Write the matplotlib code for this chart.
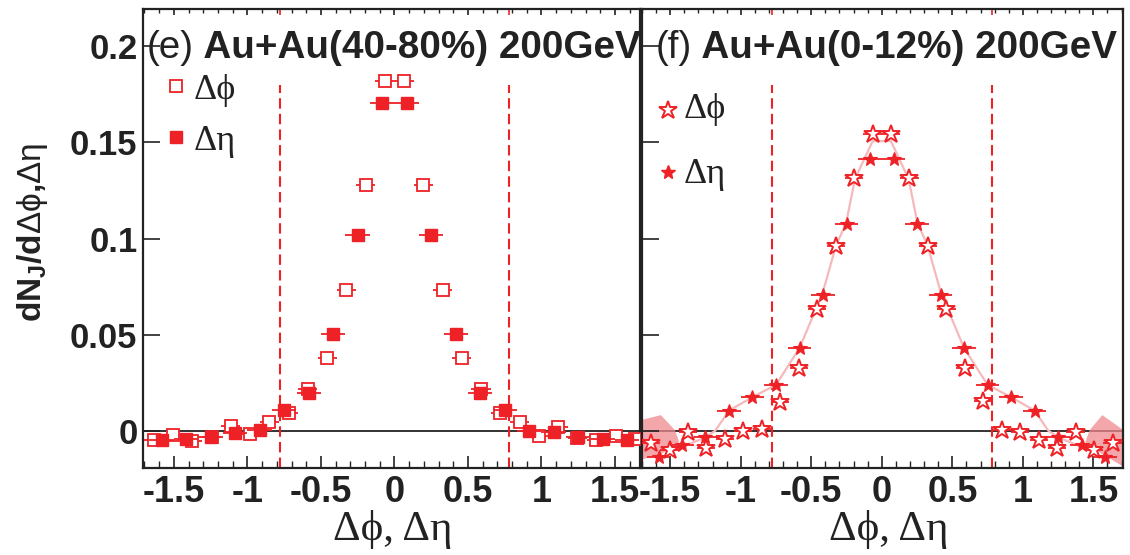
import matplotlib
matplotlib.use('Agg')
import matplotlib.pyplot as plt
from matplotlib.ticker import FixedLocator, MultipleLocator

# ---------------- data ----------------
dphi_x = [-1.636, -1.505, -1.374, -1.244, -1.113, -0.982, -0.851, -0.720, -0.589, -0.458, -0.327, -0.196, -0.065,
          0.065, 0.196, 0.327, 0.458, 0.589, 0.720, 0.851, 0.982, 1.113, 1.244, 1.374, 1.505, 1.636]
deta_x = [-1.583, -1.417, -1.250, -1.083, -0.917, -0.750, -0.583, -0.417, -0.250, -0.083,
          0.083, 0.250, 0.417, 0.583, 0.750, 0.917, 1.083, 1.250, 1.417, 1.583]
dphi_xerr = 0.065
deta_xerr = 0.083

# (e) Au+Au 40-80%
peri_dphi = [-0.0047, -0.0021, -0.0056, -0.0035, 0.0022, -0.0017, 0.0043, 0.0092, 0.0217, 0.0379, 0.0731, 0.1276, 0.182,
             0.182, 0.1276, 0.0731, 0.0379, 0.0217, 0.0092, 0.0043, -0.0030, 0.0020, -0.0040, -0.0050, -0.0030, -0.0045]
peri_deta = [-0.0047, -0.0043, -0.0033, -0.0012, 0.0002, 0.0109, 0.0196, 0.0505, 0.102, 0.1703,
             0.1703, 0.102, 0.0505, 0.0196, 0.0109, -0.0003, -0.0007, -0.0033, -0.0043, -0.0050]

# (f) Au+Au 0-12%
cent_dphi = [-0.0064, -0.0099, -0.0009, -0.0090, -0.0043, -0.0003, 0.0007, 0.0150, 0.0324, 0.0634, 0.096, 0.1316, 0.1545,
             0.1545, 0.1316, 0.096, 0.0634, 0.0324, 0.0153, 0.0005, -0.0009, -0.0047, -0.0090, -0.0009, -0.0099, -0.0064]
cent_deta = [-0.0139, -0.0073, -0.0033, 0.0104, 0.0174, 0.0236, 0.043, 0.0708, 0.1078, 0.1415,
             0.1415, 0.1078, 0.0708, 0.043, 0.0236, 0.0174, 0.0104, -0.0033, -0.0073, -0.0139]

curve_x = [-1.46, -1.25, -1.18, -1.083, -0.917, -0.750, -0.583, -0.419, -0.324, -0.253, -0.19, -0.065,
           0.065, 0.19, 0.253, 0.324, 0.419, 0.583, 0.750, 0.917, 1.083, 1.18, 1.25, 1.46]
curve_y = [-0.0099, -0.0035, 0.0, 0.0104, 0.0174, 0.0238, 0.043, 0.0717, 0.0965, 0.108, 0.131, 0.1507,
           0.1507, 0.131, 0.108, 0.0965, 0.0717, 0.043, 0.0238, 0.0174, 0.0104, 0.0, -0.0035, -0.0099]

band_l_x = [-1.71, -1.57, -1.47, -1.44]
band_l_hi = [0.0057, 0.0083, 0.0005, -0.0056]
band_l_lo = [-0.0150, -0.0120, -0.0080, -0.0056]
band_r_x = [1.44, 1.47, 1.56, 1.71]
band_r_hi = [-0.0056, 0.0005, 0.0083, 0.0005]
band_r_lo = [-0.0056, -0.0080, -0.0120, -0.0186]

cut_pos = [-0.78, 0.78]
xticks = [-1.5, -1, -0.5, 0, 0.5, 1, 1.5]
xtick_labels = ['-1.5', '-1', '-0.5', '0', '0.5', '1', '1.5']
yticks = [0, 0.05, 0.1, 0.15, 0.2]
ytick_labels = ['0', '0.05', '0.1', '0.15', '0.2']

title_e = ('(e)', 'Au+Au(40-80%) 200GeV')
title_f = ('(f)', 'Au+Au(0-12%) 200GeV')
leg_labels = ['Δϕ', 'Δη']
xlabel = 'Δϕ, Δη'
ylabel = r'$\mathbf{dN_{J}/d}\mathrm{\Delta\phi}\mathbf{,}\mathrm{\Delta\eta}$'

# ---------------- style ----------------
RED = '#ee2226'
PINK = '#f08a8e'
FRAME = '#222222'
TXT = '#222222'
plt.rcParams['mathtext.fontset'] = 'custom'
plt.rcParams['mathtext.rm'] = 'Liberation Sans'
plt.rcParams['mathtext.bf'] = 'Liberation Sans:bold'
plt.rcParams['mathtext.it'] = 'Liberation Sans:italic'
SANS = ['Liberation Sans', 'DejaVu Sans']
SERIF = ['Liberation Serif', 'DejaVu Serif']

W, H = 1130, 555
fig = plt.figure(figsize=(W / 100, H / 100), dpi=100)
axL = fig.add_axes([143 / W, (H - 468) / H, 497 / W, 459 / H])
axR = fig.add_axes([642 / W, (H - 468) / H, 481 / W, 459 / H])

axL.set_xlim(-1.71, 1.67)
axR.set_xlim(-1.70, 1.71)
YLIM = (-0.0195, 0.2195)


def style_axes(ax, ylabels):
    ax.set_ylim(*YLIM)
    for s in ax.spines.values():
        s.set_linewidth(1.6)
        s.set_color(FRAME)
    ax.xaxis.set_major_locator(FixedLocator(xticks))
    ax.xaxis.set_minor_locator(MultipleLocator(0.1))
    ax.set_xticklabels(xtick_labels)
    ax.yaxis.set_major_locator(FixedLocator(yticks))
    if ylabels:
        ax.set_yticklabels(ytick_labels)
    else:
        ax.set_yticklabels([])
    ax.tick_params(axis='x', which='major', direction='in', length=9, width=1.2,
                   color=FRAME, top=True, labelsize=26, pad=5, labelcolor=TXT)
    ax.tick_params(axis='x', which='minor', direction='in', length=5, width=1.0,
                   color=FRAME, top=True)
    ax.tick_params(axis='y', which='major', direction='in', length=12, width=1.2,
                   color=FRAME, right=False, labelsize=25, pad=4, labelcolor=TXT)
    for lab in ax.get_xticklabels() + ax.get_yticklabels():
        lab.set_fontfamily(SANS)
        lab.set_fontweight('bold')
    for t in ax.xaxis.get_major_ticks():
        t.tick2line.set_markersize(4)
    for t in ax.xaxis.get_minor_ticks():
        t.tick2line.set_markersize(3)
    ax.axhline(0, color=FRAME, lw=1.3, zorder=1)
    for c in cut_pos:
        ax.vlines(c, YLIM[0], 0.18, colors=RED, linestyles=(0, (5, 2.5)), lw=1.5, zorder=1)
        ax.vlines(c, 0.2165, YLIM[1], colors=RED, lw=1.2, zorder=1)
    ax.set_xlabel(xlabel, fontsize=31, family=SERIF, color=TXT)
    ax.xaxis.set_label_coords(0.503, -0.092)


style_axes(axL, True)
style_axes(axR, False)
axR.xaxis.set_label_coords(0.512, -0.092)

# ---------------- panel (e) ----------------
axL.errorbar(dphi_x, peri_dphi, xerr=dphi_xerr, fmt='s', ms=9, mfc='white', mec=RED, mew=1.3,
             ecolor=RED, elinewidth=1.3, capsize=0, zorder=3)
axL.errorbar(deta_x, peri_deta, xerr=deta_xerr, fmt='s', ms=9, mfc=RED, mec=RED, mew=1.0,
             ecolor=RED, elinewidth=1.3, capsize=0, zorder=4)

# ---------------- panel (f) ----------------
axR.fill_between(band_l_x, band_l_lo, band_l_hi, color=PINK, alpha=0.75, lw=0, zorder=1)
axR.fill_between(band_r_x, band_r_lo, band_r_hi, color=PINK, alpha=0.75, lw=0, zorder=1)
axR.plot(curve_x, curve_y, color='#f6b9bb', lw=1.6, zorder=2)
axR.errorbar(dphi_x, cent_dphi, xerr=dphi_xerr, fmt='*', ms=13.5, mfc='white', mec=RED, mew=1.4,
             ecolor=RED, elinewidth=1.3, capsize=0, zorder=3)
axR.errorbar(deta_x, cent_deta, xerr=deta_xerr, fmt='*', ms=10, mfc=RED, mec=RED, mew=0.8,
             ecolor=RED, elinewidth=1.3, capsize=0, zorder=4)

# ---------------- titles ----------------
for ax, (a, b), x0 in ((axL, title_e, 0.008), (axR, title_f, 0.028)):
    t1 = ax.text(x0, 0.914, a, transform=ax.transAxes, fontsize=27.8, family=SANS,
                 va='center', ha='left', color=TXT)
    ax.annotate(' ' + b, xy=(1, 0.5), xycoords=t1, va='center', ha='left', fontsize=27.8,
                family=SANS, fontweight='bold', color=TXT)

# ---------------- legends ----------------
axL.plot([0.066], [0.832], 's', ms=9, mfc='white', mec=RED, mew=1.3, transform=axL.transAxes)
axL.plot([0.066], [0.721], 's', ms=8, mfc=RED, mec=RED, transform=axL.transAxes)
axL.text(0.102, 0.822, leg_labels[0], transform=axL.transAxes, fontsize=26, family=SERIF,
         va='center', ha='left', color=TXT)
axL.text(0.102, 0.711, leg_labels[1], transform=axL.transAxes, fontsize=26, family=SERIF,
         va='center', ha='left', color=TXT)

axR.plot([0.054], [0.78], '*', ms=13.5, mfc='white', mec=RED, mew=1.4, transform=axR.transAxes)
axR.plot([0.054], [0.645], '*', ms=10, mfc=RED, mec=RED, transform=axR.transAxes)
axR.text(0.087, 0.782, leg_labels[0], transform=axR.transAxes, fontsize=26, family=SERIF,
         va='center', ha='left', color=TXT)
axR.text(0.087, 0.640, leg_labels[1], transform=axR.transAxes, fontsize=26, family=SERIF,
         va='center', ha='left', color=TXT)

# ---------------- y label ----------------
fig.text(33 / W, 1 - 232 / H, ylabel, rotation=90, fontsize=24, ha='center', va='center',
         color=TXT)

fig.savefig('out.png', dpi=100)
